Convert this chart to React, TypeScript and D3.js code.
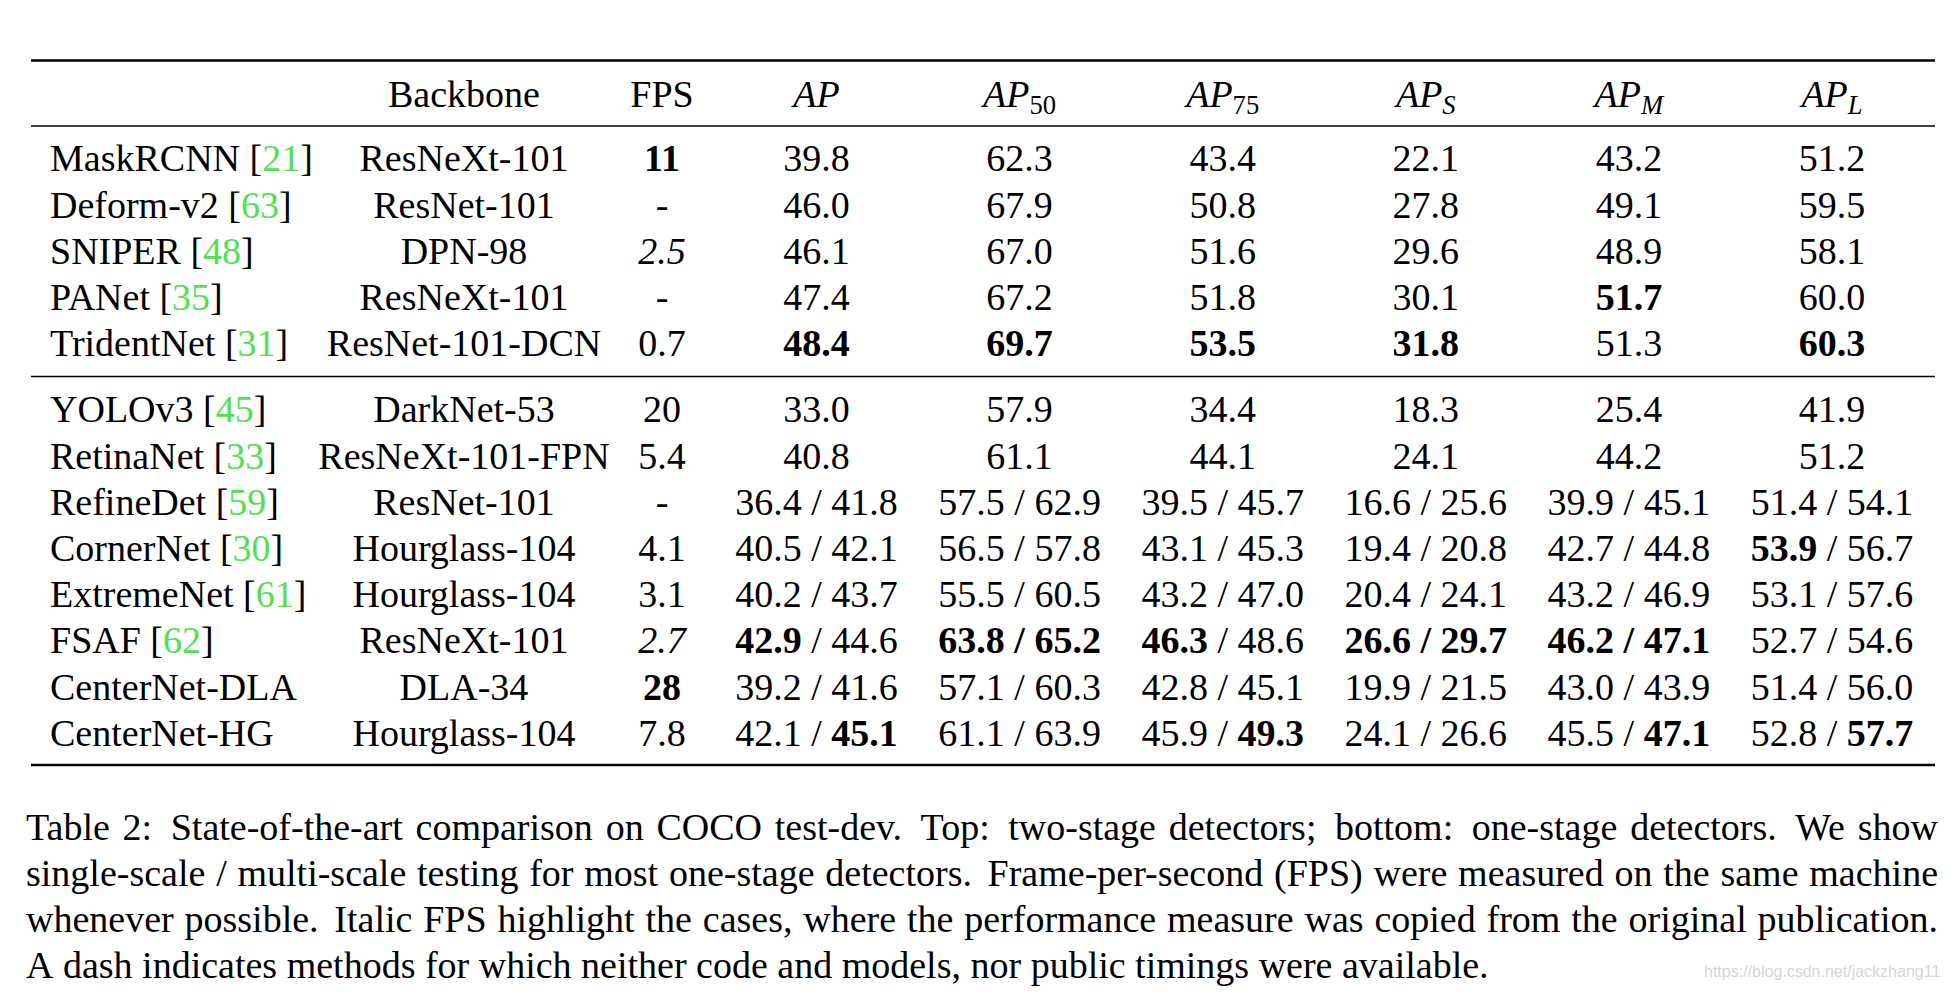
import React, { useMemo } from "react";
import * as d3 from "d3";

// ---------- data ----------
const headerLeft = ["Backbone", "FPS"];
const apHeaders = ["AP", "AP", "AP", "AP", "AP", "AP"];
const apSubs = ["", "50", "75", "S", "M", "L"];
const apSubItalic = [false, false, false, true, true, true];

const topMethods = ["MaskRCNN", "Deform-v2", "SNIPER", "PANet", "TridentNet"];
const topRefs = ["21", "63", "48", "35", "31"];
const topBackbones = ["ResNeXt-101", "ResNet-101", "DPN-98", "ResNeXt-101", "ResNet-101-DCN"];
const topFps = ["*11", "-", "_2.5", "-", "0.7"];
const topAP = ["39.8", "46.0", "46.1", "47.4", "*48.4"];
const topAP50 = ["62.3", "67.9", "67.0", "67.2", "*69.7"];
const topAP75 = ["43.4", "50.8", "51.6", "51.8", "*53.5"];
const topAPS = ["22.1", "27.8", "29.6", "30.1", "*31.8"];
const topAPM = ["43.2", "49.1", "48.9", "*51.7", "51.3"];
const topAPL = ["51.2", "59.5", "58.1", "60.0", "*60.3"];

const botMethods = ["YOLOv3", "RetinaNet", "RefineDet", "CornerNet", "ExtremeNet", "FSAF", "CenterNet-DLA", "CenterNet-HG"];
const botRefs = ["45", "33", "59", "30", "61", "62", "", ""];
const botBackbones = ["DarkNet-53", "ResNeXt-101-FPN", "ResNet-101", "Hourglass-104", "Hourglass-104", "ResNeXt-101", "DLA-34", "Hourglass-104"];
const botFps = ["20", "5.4", "-", "4.1", "3.1", "_2.7", "*28", "7.8"];
const botAP = ["33.0", "40.8", "36.4 / 41.8", "40.5 / 42.1", "40.2 / 43.7", "*42.9 / 44.6", "39.2 / 41.6", "42.1 / *45.1"];
const botAP50 = ["57.9", "61.1", "57.5 / 62.9", "56.5 / 57.8", "55.5 / 60.5", "*63.8 / *65.2", "57.1 / 60.3", "61.1 / 63.9"];
const botAP75 = ["34.4", "44.1", "39.5 / 45.7", "43.1 / 45.3", "43.2 / 47.0", "*46.3 / 48.6", "42.8 / 45.1", "45.9 / *49.3"];
const botAPS = ["18.3", "24.1", "16.6 / 25.6", "19.4 / 20.8", "20.4 / 24.1", "*26.6 / *29.7", "19.9 / 21.5", "24.1 / 26.6"];
const botAPM = ["25.4", "44.2", "39.9 / 45.1", "42.7 / 44.8", "43.2 / 46.9", "*46.2 / *47.1", "43.0 / 43.9", "45.5 / *47.1"];
const botAPL = ["41.9", "51.2", "51.4 / 54.1", "*53.9 / 56.7", "53.1 / 57.6", "52.7 / 54.6", "51.4 / 56.0", "52.8 / *57.7"];

const captionLines = [
  "Table 2: State-of-the-art comparison on COCO test-dev. Top: two-stage detectors; bottom: one-stage detectors. We show",
  "single-scale / multi-scale testing for most one-stage detectors. Frame-per-second (FPS) were measured on the same machine",
  "whenever possible. Italic FPS highlight the cases, where the performance measure was copied from the original publication.",
  "A dash indicates methods for which neither code and models, nor public timings were available.",
];
const watermark = "https://blog.csdn.net/jackzhang11";

// ---------- style ----------
const W = 1958;
const H = 998;
const SERIF = "'Liberation Serif', 'Times New Roman', Times, serif";
const FS = 38;
const GREEN = "#52e052";
const INK = "#000";

const ruleLeft = 31;
const ruleRight = 1935;

const colX = d3.scaleOrdinal<string, number>().domain(["method", "backbone", "fps"]).range([50, 464, 662]);
const apX = d3.scaleLinear().domain([0, 5]).range([816.5, 1832]);
const yTop = d3.scaleLinear().domain([0, 1]).range([171.4, 217.6]);
const yBot = d3.scaleLinear().domain([0, 1]).range([422.4, 468.6]);
const headerY = 106.5;
const rules = [
  { y: 60.5, w: 2.6 },
  { y: 126, w: 1.3 },
  { y: 376.5, w: 1.3 },
  { y: 765, w: 2.6 },
];
const capLeft = 26;
const capRight = 1938;
const capY = d3.scaleLinear().domain([0, 1]).range([839.5, 885.5]);

function Piece({ s, forceBold }: { s: string; forceBold?: boolean }) {
  let bold = !!forceBold;
  let italic = false;
  let t = s;
  if (t.startsWith("*")) {
    bold = true;
    t = t.slice(1);
  } else if (t.startsWith("_")) {
    italic = true;
    t = t.slice(1);
  }
  return (
    <tspan fontWeight={bold ? "bold" : "normal"} fontStyle={italic ? "italic" : "normal"}>
      {t}
    </tspan>
  );
}

function Cell({ x, y, value }: { x: number; y: number; value: string }) {
  const parts = value.split(" / ");
  const allBold = parts.length > 1 && parts.every((p) => p.startsWith("*"));
  return (
    <text x={x} y={y} textAnchor="middle" style={{ whiteSpace: "pre" }}>
      {parts.length === 1 ? (
        <Piece s={parts[0]} />
      ) : (
        <>
          <Piece s={parts[0]} />
          <tspan fontWeight={allBold ? "bold" : "normal"}>{" / "}</tspan>
          <Piece s={parts[1]} />
        </>
      )}
    </text>
  );
}

function Group({
  methods,
  refs,
  backbones,
  fps,
  cols,
  y,
}: {
  methods: string[];
  refs: string[];
  backbones: string[];
  fps: string[];
  cols: string[][];
  y: d3.ScaleLinear<number, number>;
}) {
  return (
    <g>
      {methods.map((m, i) => (
        <g key={m}>
          <text x={colX("method")} y={y(i)} style={{ whiteSpace: "pre" }}>
            {refs[i] ? (
              <>
                {m + " ["}
                <tspan fill={GREEN}>{refs[i]}</tspan>
                {"]"}
              </>
            ) : (
              m
            )}
          </text>
          <text x={colX("backbone")} y={y(i)} textAnchor="middle">
            {backbones[i]}
          </text>
          <Cell x={colX("fps")} y={y(i)} value={fps[i]} />
          {cols.map((c, j) => (
            <Cell key={j} x={apX(j)} y={y(i)} value={c[i]} />
          ))}
        </g>
      ))}
    </g>
  );
}

function Caption() {
  const layout = useMemo(() => {
    const canvas = document.createElement("canvas");
    const ctx = canvas.getContext("2d")!;
    ctx.font = `${FS}px "Liberation Serif"`;
    const spaceW = ctx.measureText(" ").width;
    return captionLines.map((line, li) => {
      const words = line.split(" ");
      const widths = words.map((w) => ctx.measureText(w).width);
      const weights = words.slice(0, -1).map((w) => (/[.:;]$/.test(w) ? 1.45 : 1));
      const last = li === captionLines.length - 1;
      const sumW = d3.sum(widths);
      const sumG = d3.sum(weights);
      const unit = last ? spaceW : (capRight - capLeft - sumW) / sumG;
      let x = capLeft;
      return words.map((w, i) => {
        const pos = x;
        x += widths[i] + (i < weights.length ? unit * (last ? 1 : weights[i]) : 0);
        return { w, x: pos };
      });
    });
  }, []);
  return (
    <g>
      {layout.map((words, li) => (
        <text key={li} y={capY(li)}>
          {words.map((d, i) => (
            <tspan key={i} x={d.x}>
              {d.w}
            </tspan>
          ))}
        </text>
      ))}
    </g>
  );
}

export default function App() {
  const topCols = [topAP, topAP50, topAP75, topAPS, topAPM, topAPL];
  const botCols = [botAP, botAP50, botAP75, botAPS, botAPM, botAPL];
  return (
    <svg
      width={W}
      height={H}
      viewBox={`0 0 ${W} ${H}`}
      style={{ position: "absolute", left: 0, top: 0, background: "#fff" }}
      fontFamily={SERIF}
      fontSize={FS}
      fill={INK}
    >
      <rect x={0} y={0} width={W} height={H} fill="#fff" />
      {rules.map((r, i) => (
        <line key={i} x1={ruleLeft} x2={ruleRight} y1={r.y} y2={r.y} stroke={INK} strokeWidth={r.w} />
      ))}
      <text x={colX("backbone")} y={headerY} textAnchor="middle">
        {headerLeft[0]}
      </text>
      <text x={colX("fps")} y={headerY} textAnchor="middle">
        {headerLeft[1]}
      </text>
      {apHeaders.map((h, j) => (
        <text key={j} x={apX(j)} y={headerY} textAnchor="middle">
          <tspan fontStyle="italic">{h}</tspan>
          {apSubs[j] ? (
            <tspan fontSize={FS * 0.7} dy={7} fontStyle={apSubItalic[j] ? "italic" : "normal"}>
              {apSubs[j]}
            </tspan>
          ) : null}
        </text>
      ))}
      <Group methods={topMethods} refs={topRefs} backbones={topBackbones} fps={topFps} cols={topCols} y={yTop} />
      <Group methods={botMethods} refs={botRefs} backbones={botBackbones} fps={botFps} cols={botCols} y={yBot} />
      <Caption />
      <text
        x={1704}
        y={977}
        fontFamily="'Liberation Sans', Arial, sans-serif"
        fontSize={16}
        fill="#d6d6d6"
      >
        {watermark}
      </text>
    </svg>
  );
}
